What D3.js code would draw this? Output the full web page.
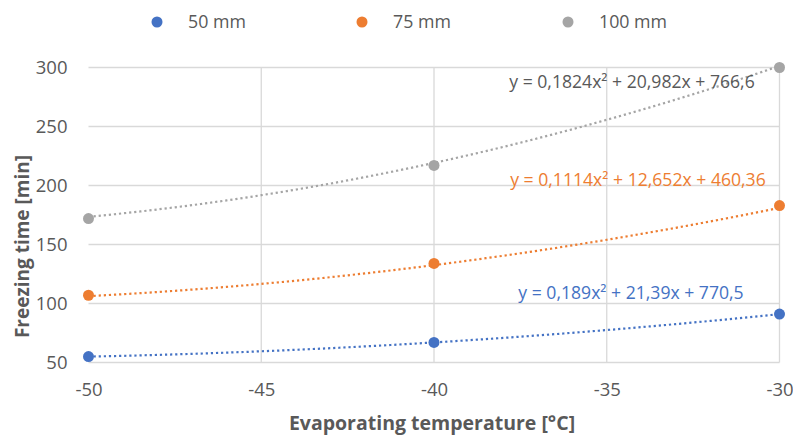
<!DOCTYPE html>
<html>
<head>
<meta charset="utf-8">
<script src="https://cdn.jsdelivr.net/npm/d3@7"></script>
<style>
  html, body { margin: 0; padding: 0; background: #fff; }
  svg { display: block; }
  text { font-family: "Open Sans", "Noto Sans", sans-serif; }
</style>
</head>
<body>
<svg id="chart" width="793" height="435"></svg>
<script>
// Evaporating temperature (°C) at which each slab thickness was tested
const temperatures = [-50, -40, -30];

// Freezing time in minutes for each slab thickness
const series50 = [55, 67, 91];
const series75 = [107, 134, 183];
const series100 = [172, 217, 300];

const seriesNames = ["50 mm", "75 mm", "100 mm"];
const seriesColors = ["#4472C4", "#ED7D31", "#A5A5A5"];

// Polynomial trendline equations shown beside each series
const equationLabels = [
  "y = 0,189x² + 21,39x + 770,5",
  "y = 0,1114x² + 12,652x + 460,36",
  "y = 0,1824x² + 20,982x + 766,6"
];
// Coefficients [a, b, c] of the 75 mm and 100 mm trendlines, as labelled
const coef75 = [0.1114, 12.652, 460.36];
const coef100 = [0.1824, 20.982, 766.6];

const xTicks = [-50, -45, -40, -35, -30];
const yTicks = [50, 100, 150, 200, 250, 300];

const xTitle = "Evaporating temperature [°C]";
const yTitle = "Freezing time [min]";

// Second-order least-squares fit (exact through three points)
function quadFit(xs, ys) {
  const n = xs.length;
  let s = [0, 0, 0, 0, 0], t = [0, 0, 0];
  for (let i = 0; i < n; i++) {
    const x = xs[i], y = ys[i];
    for (let k = 0; k <= 4; k++) s[k] += Math.pow(x, k);
    for (let k = 0; k <= 2; k++) t[k] += Math.pow(x, k) * y;
  }
  // Solve normal equations for c + b x + a x^2
  const M = [
    [s[0], s[1], s[2], t[0]],
    [s[1], s[2], s[3], t[1]],
    [s[2], s[3], s[4], t[2]]
  ];
  for (let i = 0; i < 3; i++) {
    let p = i;
    for (let r = i + 1; r < 3; r++) if (Math.abs(M[r][i]) > Math.abs(M[p][i])) p = r;
    [M[i], M[p]] = [M[p], M[i]];
    for (let r = 0; r < 3; r++) {
      if (r === i) continue;
      const f = M[r][i] / M[i][i];
      for (let c = i; c < 4; c++) M[r][c] -= f * M[i][c];
    }
  }
  const c0 = M[0][3] / M[0][0], c1 = M[1][3] / M[1][1], c2 = M[2][3] / M[2][2];
  return [c2, c1, c0];
}

const coef50 = quadFit(temperatures, series50);

const seriesData = [series50, series75, series100];
const coefs = [coef50, coef75, coef100];

const svg = d3.select("#chart");
const W = 793, H = 435;
const margin = { left: 88.5, right: W - 779.5, top: 67.5, bottom: H - 362.5 };

const x = d3.scaleLinear().domain([-50, -30]).range([margin.left, W - margin.right]);
const y = d3.scaleLinear().domain([50, 300]).range([H - margin.bottom, margin.top]);

const gridColor = "#d9d9d9";
const textColor = "#595959";

// Horizontal gridlines
svg.append("g")
  .selectAll("line")
  .data(yTicks)
  .join("line")
  .attr("x1", x(-50)).attr("x2", x(-30))
  .attr("y1", d => y(d)).attr("y2", d => y(d))
  .attr("stroke", gridColor).attr("stroke-width", 1.3);

// Vertical gridlines (none at the left edge)
svg.append("g")
  .selectAll("line")
  .data(xTicks.slice(1))
  .join("line")
  .attr("x1", d => x(d)).attr("x2", d => x(d))
  .attr("y1", y(300)).attr("y2", y(50))
  .attr("stroke", gridColor).attr("stroke-width", 1.3);

// Axes: tick labels only, plain hyphen for negatives
const plain = d => String(d);

const yAxis = d3.axisLeft(y).tickValues(yTicks).tickFormat(plain).tickSize(0).tickPadding(0);
svg.append("g")
  .attr("transform", `translate(${x(-50) - 21},0)`)
  .call(yAxis)
  .call(g => g.select(".domain").remove())
  .call(g => g.selectAll("text")
    .attr("fill", textColor)
    .style("font-size", "18.5px")
    .style("font-family", "'Open Sans', sans-serif"));

const xAxis = d3.axisBottom(x).tickValues(xTicks).tickFormat(plain).tickSize(0).tickPadding(0);
svg.append("g")
  .attr("transform", `translate(0,${y(50) + 20})`)
  .call(xAxis)
  .call(g => g.select(".domain").remove())
  .call(g => g.selectAll("text")
    .attr("fill", textColor)
    .style("font-size", "18.5px")
    .style("font-family", "'Open Sans', sans-serif"));

// Axis titles
svg.append("text")
  .attr("x", 432)
  .attr("y", 430)
  .attr("text-anchor", "middle")
  .attr("fill", textColor)
  .style("font-size", "19.5px")
  .style("font-weight", "bold")
  .text(xTitle);

svg.append("text")
  .attr("transform", `translate(29,246.5) rotate(-90)`)
  .attr("text-anchor", "middle")
  .attr("fill", textColor)
  .style("font-size", "19px")
  .style("font-weight", "bold")
  .text(yTitle);

// Dotted polynomial trendlines
const xs = d3.range(-50, -29.99, 0.25);
const line = d3.line().x(d => x(d[0])).y(d => y(d[1]));
coefs.forEach((c, i) => {
  const pts = xs.map(t => [t, c[0] * t * t + c[1] * t + c[2]]);
  svg.append("path")
    .attr("d", line(pts))
    .attr("fill", "none")
    .attr("stroke", seriesColors[i])
    .attr("stroke-width", 2.2)
    .attr("stroke-dasharray", "2.2 2.9");
});

// Data markers
seriesData.forEach((vals, i) => {
  svg.append("g")
    .selectAll("circle")
    .data(vals)
    .join("circle")
    .attr("cx", (d, j) => x(temperatures[j]))
    .attr("cy", d => y(d))
    .attr("r", 5.5)
    .attr("fill", seriesColors[i]);
});

// Trendline equation labels
const eqPos = [
  { x: 631, y: 299, color: "#4472C4" },
  { x: 638, y: 186, color: "#ED7D31" },
  { x: 632, y: 88, color: "#595959" }
];
equationLabels.forEach((t, i) => {
  svg.append("text")
    .attr("x", eqPos[i].x)
    .attr("y", eqPos[i].y)
    .attr("text-anchor", "middle")
    .attr("fill", eqPos[i].color)
    .style("font-size", "17.6px")
    .text(t);
});

// Legend
const legendX = [157, 362, 568];
const legend = svg.append("g");
seriesNames.forEach((name, i) => {
  legend.append("circle")
    .attr("cx", legendX[i]).attr("cy", 22).attr("r", 5.5)
    .attr("fill", seriesColors[i]);
  legend.append("text")
    .attr("x", legendX[i] + 31).attr("y", 28)
    .attr("fill", textColor)
    .style("font-size", "17.8px")
    .text(name);
});
</script>
</body>
</html>
